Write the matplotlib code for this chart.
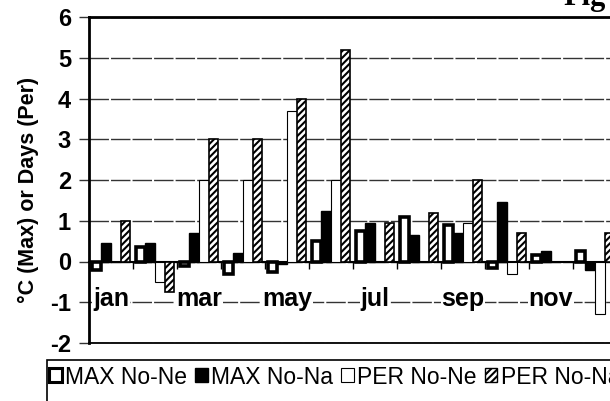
import matplotlib
matplotlib.use("Agg")
import matplotlib.pyplot as plt
import numpy as np
from matplotlib.patches import Patch, Rectangle

# values
months = ["jan", "feb", "mar", "apr", "may", "jun",
          "jul", "aug", "sep", "oct", "nov", "dec"]
max_no_ne = [-0.2, 0.35, -0.1, -0.3, -0.25, 0.5, 0.75, 1.1, 0.9, -0.15, 0.15, 0.25]
max_no_na = [0.45, 0.45, 0.7, 0.2, -0.05, 1.25, 0.95, 0.65, 0.7, 1.45, 0.25, -0.2]
per_no_ne = [0.0, -0.5, 2.0, 2.0, 3.7, 2.0, 0.0, 0.0, 0.95, -0.3, 0.0, -1.3]
per_no_na = [1.0, -0.75, 3.0, 3.0, 4.0, 5.2, 0.95, 1.2, 2.0, 0.7, 0.0, 0.7]
series_names = ["MAX No-Ne", "MAX No-Na", "PER No-Ne", "PER No-Na"]
y_ticks = [-2, -1, 0, 1, 2, 3, 4, 5, 6]

plt.rcParams["font.family"] = ["Liberation Sans", "DejaVu Sans"]
plt.rcParams["hatch.linewidth"] = 1.5

W, H = 610, 401
fig = plt.figure(figsize=(W / 100, H / 100), dpi=100)
# the plot area runs past the right edge of the picture (it was cropped)
ax = fig.add_axes([89 / W, 58 / H, 528 / W, 326 / H])

x = np.arange(len(months))
w = 0.22

ax.bar(x - 1.5 * w, max_no_ne, w, color="white", edgecolor="black", linewidth=2.6, zorder=3)
ax.bar(x - 0.5 * w, max_no_na, w, color="black", edgecolor="black", linewidth=1, zorder=3)
ax.bar(x + 0.5 * w, per_no_ne, w, color="white", edgecolor="black", linewidth=0.8, zorder=3)
ax.bar(x + 1.5 * w, per_no_na, w, color="white", edgecolor="black", hatch="/////",
       linewidth=1.2, zorder=3)

ax.set_xlim(-0.5, len(months) - 0.5)
ax.set_ylim(-2, 6)

# grid
ax.set_yticks(y_ticks)
ax.yaxis.grid(True, color="#333333", linewidth=1.0, linestyle=(0, (14, 1.5)))
ax.set_axisbelow(True)
ax.set_yticklabels([str(t) for t in y_ticks], fontsize=17, fontweight="bold")
ax.tick_params(axis="y", length=7, width=1, color="#333333", pad=6)

# category axis sits on zero
ax.spines["bottom"].set_position(("data", 0))
ax.spines["bottom"].set_linewidth(1.5)
ax.set_xticks(np.arange(-0.5, len(months), 1))
ax.tick_params(axis="x", direction="out", length=5, width=1, labelbottom=False)
ax.spines["left"].set_linewidth(2)
ax.spines["top"].set_linewidth(2)
ax.spines["right"].set_visible(False)
ax.axhline(-2, color="black", linewidth=1.3, clip_on=False, zorder=4)

# month labels on every second category, low down
for i in range(0, len(months), 2):
    ax.text(x[i], -1.1, months[i], ha="center", va="baseline", fontsize=18,
            fontweight="bold", zorder=5,
            bbox=dict(facecolor="white", edgecolor="none", pad=0.5))

ax.set_ylabel("°C (Max) or Days (Per)", fontsize=15.5, fontweight="bold")
ax.yaxis.set_label_coords(-0.095, 0.47)

# legend in a box that runs off the picture
handles = [Patch(facecolor="white", edgecolor="black", linewidth=2.2),
           Patch(facecolor="black", edgecolor="black"),
           Patch(facecolor="white", edgecolor="black", linewidth=0.8),
           Patch(facecolor="white", edgecolor="black", hatch="/////", linewidth=1)]
fig.legend(handles, series_names, loc="center left",
           bbox_to_anchor=(49 / W, 1 - 377 / H), ncol=4, frameon=False,
           fontsize=16.5, handlelength=0.55, handleheight=0.55,
           handletextpad=0.15, columnspacing=0.35, borderpad=0, borderaxespad=0)
fig.add_artist(Rectangle((47 / W, -0.1), 2, (H - 360) / H + 0.1, fill=False,
                         linewidth=1.2, edgecolor="black",
                         transform=fig.transFigure, clip_on=False))

# caption cut off at the top right
fig.text(563 / W, 1 - 5 / H, "Fig", fontsize=22, fontweight="bold",
         family=["Liberation Serif", "DejaVu Serif"], va="baseline")

fig.savefig("out.png", dpi=100)
